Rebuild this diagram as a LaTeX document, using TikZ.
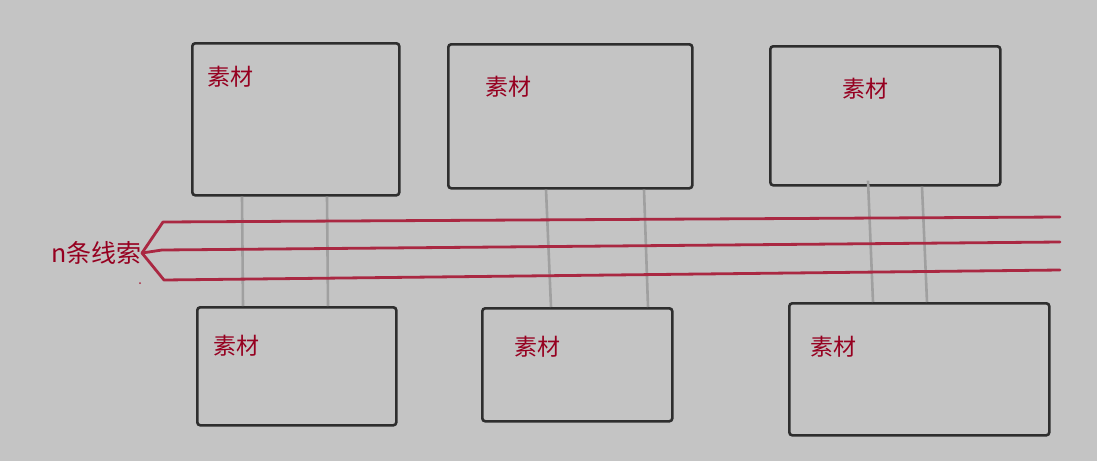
\documentclass[tikz,border=0pt]{standalone}
\usepackage{fontspec}
\newfontfamily\cjk{Noto Sans CJK SC}
\usetikzlibrary{positioning}
\definecolor{bg}{RGB}{196,196,196}
\definecolor{frame}{RGB}{46,46,46}
\definecolor{wine}{RGB}{150,0,32}
\definecolor{thread}{RGB}{170,40,66}
\definecolor{rodgray}{RGB}{160,160,160}
\tikzset{
  box/.style={draw=frame, line width=2.6pt, rounded corners=3pt, rectangle, anchor=north west, inner sep=0pt},
  tag/.style={text=wine, font=\cjk\fontsize{23}{23}\selectfont, inner sep=0pt},
  clue/.style={draw=thread, line width=2.8pt, line cap=round, line join=round},
  rod/.style={draw=rodgray, line width=2.6pt},
}

\begin{document}
\begin{tikzpicture}[x=1pt,y=-1pt]
      \fill[bg] (0,0) rectangle (1097,461);
      \useasboundingbox (0,0) rectangle (1097,461);

      % Nodes
      \node[box, minimum width=207pt, minimum height=152pt] (t1) at (191,42) {};
      \node[box, minimum width=244pt, minimum height=144pt] (t2) at (447,43) {};
      \node[box, minimum width=230pt, minimum height=139pt] (t3) at (769,45) {};
      \node[box, minimum width=199pt, minimum height=118pt] (b1) at (196,306) {};
      \node[box, minimum width=190pt, minimum height=113pt] (b2) at (481,307) {};
      \node[box, minimum width=260pt, minimum height=132pt] (b3) at (788,302) {};

      \node[tag] (t1tag) at ([shift={(39,35)}]t1.north west) {素材};
      \node[tag] (t2tag) at ([shift={(61,44)}]t2.north west) {素材};
      \node[tag] (t3tag) at ([shift={(96,44)}]t3.north west) {素材};
      \node[tag] (b1tag) at ([shift={(40,40)}]b1.north west) {素材};
      \node[tag] (b2tag) at ([shift={(56,40)}]b2.north west) {素材};
      \node[tag] (b3tag) at ([shift={(45,45)}]b3.north west) {素材};

      \node[tag, font=\cjk\fontsize{25}{25}\selectfont, anchor=east] (clues) at (142,253) {n条线索};

      % Thread ends
      \coordinate (l1) at (163,222);
      \coordinate (l2) at (162,250);
      \coordinate (l3) at (164,280);
      \coordinate (r1) at (1060,217);
      \coordinate (r2) at (1060,242);
      \coordinate (r3) at (1060,270);

      % Rods
      \draw[rod] ([xshift=51pt]t1.south west) -- ([xshift=47pt]b1.north west);
      \draw[rod] ([xshift=136pt]t1.south west) -- ([xshift=132pt]b1.north west);
      \draw[rod] ([xshift=99pt]t2.south west) -- ([xshift=70pt]b2.north west);
      \draw[rod] ([xshift=197pt]t2.south west) -- ([xshift=167pt]b2.north west);
      \draw[rod] ([xshift=99pt,yshift=6pt]t3.south west) -- ([xshift=85pt]b3.north west);
      \draw[rod] ([xshift=153pt]t3.south west) -- ([xshift=139pt]b3.north west);

      % Threads
      \draw[clue] (clues.east) -- (l1) -- (r1);
      \draw[clue] (clues.east) -- (l2) -- (r2);
      \draw[clue] (clues.east) -- (l3) -- (r3);
      \fill[thread] (140,283) circle (1pt);
  \end{tikzpicture}
\end{document}
